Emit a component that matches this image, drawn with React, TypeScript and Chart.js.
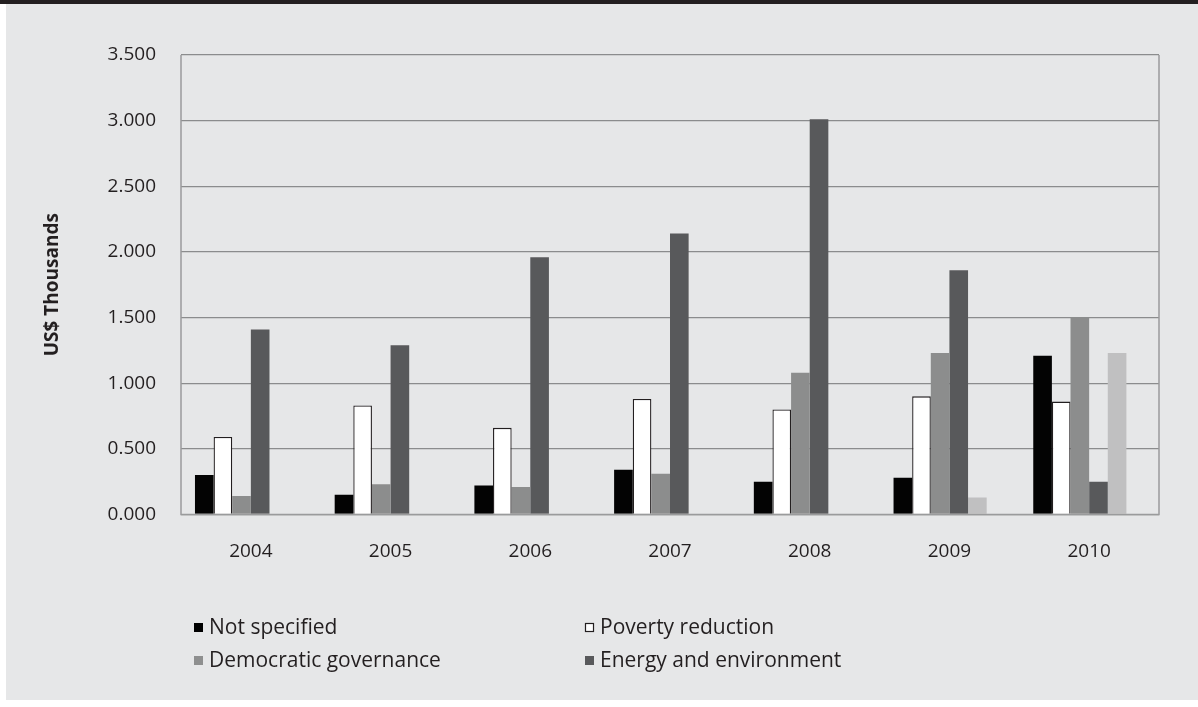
import React, { useEffect, useRef } from "react";
import { Chart, registerables } from "chart.js";

Chart.register(...registerables);

// Years on the category axis
const years = ["2004", "2005", "2006", "2007", "2008", "2009", "2010"];

// Funding by practice area, US$ thousands
const notSpecified = [0.3, 0.15, 0.22, 0.34, 0.25, 0.28, 1.21];
const povertyReduction = [0.59, 0.83, 0.66, 0.88, 0.8, 0.9, 0.86];
const democraticGovernance = [0.14, 0.23, 0.21, 0.31, 1.08, 1.23, 1.5];
const energyEnvironment = [1.41, 1.29, 1.96, 2.14, 3.01, 1.86, 0.25];
const series5 = [null, null, null, null, null, 0.13, 1.23];
const series6 = [null, null, null, null, null, null, null];

// Value axis
const yMin = 0;
const yMax = 3.5;
const yStep = 0.5;

const FONT = "'Open Sans', 'Noto Sans', sans-serif";
const TEXT = "#231f20";

const legendItems = [
  { label: "Not specified", fill: "#000000", stroke: null, col: 0, row: 0 },
  { label: "Poverty reduction", fill: "#ffffff", stroke: "#231f20", col: 1, row: 0 },
  { label: "Democratic governance", fill: "#8e8f8f", stroke: null, col: 0, row: 1 },
  { label: "Energy and environment", fill: "#58595b", stroke: null, col: 1, row: 1 },
];

const backgroundPlugin = {
  id: "panelBackground",
  beforeDraw(chart: any) {
    const { ctx, width, height } = chart;
    ctx.save();
    ctx.fillStyle = "#ffffff";
    ctx.fillRect(0, 0, width, height);
    ctx.fillStyle = "#e6e7e8";
    ctx.fillRect(6, 4, width - 6, 696);
    ctx.fillStyle = "#231f20";
    ctx.fillRect(0, 0, width, 4);
    ctx.restore();
  },
};

const frameAndLegendPlugin = {
  id: "frameAndLegend",
  afterDatasetsDraw(chart: any) {
    const { ctx, chartArea } = chart;
    const { left, right, top, bottom } = chartArea;
    ctx.save();
    ctx.strokeStyle = "#9a9b9c";
    ctx.lineWidth = 1.5;
    ctx.beginPath();
    ctx.moveTo(left, top);
    ctx.lineTo(left, bottom);
    ctx.lineTo(right, bottom);
    ctx.lineTo(right, top);
    ctx.stroke();
    ctx.restore();
  },
  afterDraw(chart: any) {
    const { ctx } = chart;
    const colX = [194, 585];
    const rowY = [627.5, 660.5];
    const box = 9;
    ctx.save();
    ctx.font = `21px ${FONT}`;
    ctx.textBaseline = "middle";
    ctx.textAlign = "left";
    for (const item of legendItems) {
      const x = colX[item.col];
      const y = rowY[item.row];
      ctx.fillStyle = item.fill;
      ctx.fillRect(x, y - box / 2, box, box);
      if (item.stroke) {
        ctx.strokeStyle = item.stroke;
        ctx.lineWidth = 1.2;
        ctx.strokeRect(x + 0.5, y - box / 2 + 0.5, box - 1, box - 1);
      }
      ctx.fillStyle = TEXT;
      ctx.fillText(item.label, x + box + 6, y + 1);
    }
    ctx.restore();
  },
};

export default function App() {
  const canvasRef = useRef<HTMLCanvasElement | null>(null);

  useEffect(() => {
    if (!canvasRef.current) return;
    const chart = new Chart(canvasRef.current, {
      type: "bar",
      data: {
        labels: years,
        datasets: [
          { label: "Not specified", data: notSpecified, backgroundColor: "#030303", borderWidth: 0 },
          {
            label: "Poverty reduction",
            data: povertyReduction,
            backgroundColor: "#ffffff",
            borderColor: "#231f20",
            borderWidth: 1.3,
          },
          { label: "Democratic governance", data: democraticGovernance, backgroundColor: "#8c8d8d", borderWidth: 0 },
          { label: "Energy and environment", data: energyEnvironment, backgroundColor: "#58595b", borderWidth: 0 },
          { label: "Series 5", data: series5, backgroundColor: "#c0c0c1", borderWidth: 0 },
          { label: "Series 6", data: series6, backgroundColor: "#a0a0a0", borderWidth: 0 },
        ],
      },
      options: {
        responsive: false,
        animation: false,
        layout: { padding: { left: 0, top: 55, right: 39, bottom: 0 } },
        datasets: { bar: { categoryPercentage: 0.8, barPercentage: 1.0 } },
        plugins: {
          legend: { display: false },
          tooltip: { enabled: false },
        },
        scales: {
          x: {
            grid: { display: false, drawTicks: false },
            border: { display: false },
            ticks: {
              color: TEXT,
              font: { family: FONT, size: 19 },
              padding: 26,
              maxRotation: 0,
            },
            afterFit(scale: any) {
              scale.height = 707 - 514.5;
            },
          },
          y: {
            min: yMin,
            max: yMax,
            grid: { color: "#8b8c8d", lineWidth: 1.3, drawTicks: false },
            border: { display: false },
            ticks: {
              stepSize: yStep,
              color: TEXT,
              font: { family: FONT, size: 19 },
              padding: 25,
              callback: (v: any) => Number(v).toFixed(3),
            },
            title: {
              display: true,
              text: "US$ Thousands",
              color: TEXT,
              font: { family: FONT, size: 19, weight: "bold" },
              padding: { top: 41, bottom: 0 },
            },
            afterFit(scale: any) {
              scale.width = 181;
            },
          },
        },
      },
      plugins: [backgroundPlugin, frameAndLegendPlugin],
    });
    return () => chart.destroy();
  }, []);

  return (
    <div style={{ position: "fixed", left: 0, top: 0, width: 1198, height: 707 }}>
      <canvas ref={canvasRef} width={1198} height={707} style={{ display: "block" }} />
    </div>
  );
}
